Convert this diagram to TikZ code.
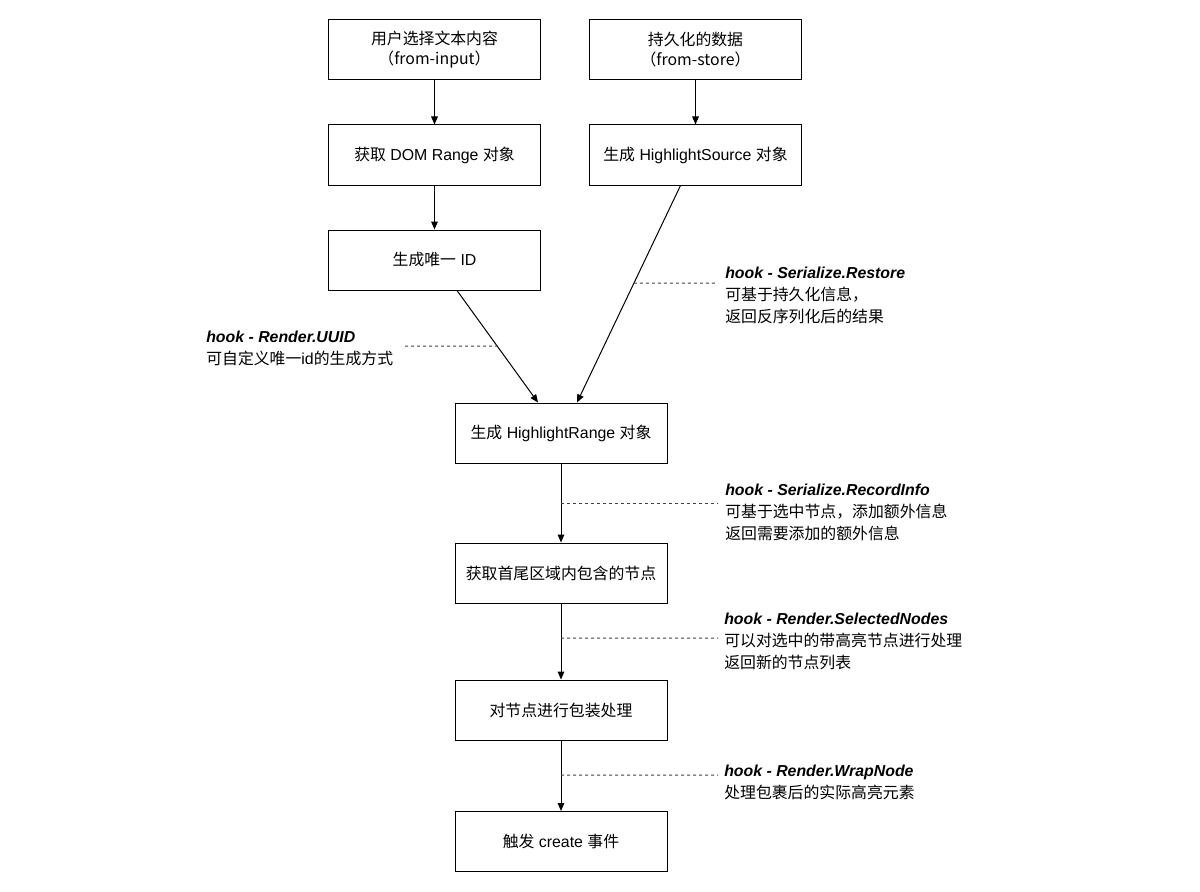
\documentclass[tikz,border=0pt]{standalone}
\usepackage{fontspec}
\setmainfont{Liberation Sans}
\newfontfamily\cjk{Noto Sans CJK SC}
\usetikzlibrary{arrows.meta,calc}
\newcommand{\hk}[1]{{\bfseries\itshape #1}}
\begin{document}
\begin{tikzpicture}[x=0.75pt,y=-0.75pt,
  box/.style={draw, line width=0.75pt, minimum width=159pt, minimum height=45pt,
    inner sep=0pt, align=center, font=\fontsize{11.9}{15}\selectfont},
  arr/.style={line width=0.75pt, -{Triangle[length=6pt,width=5pt]}},
  hookline/.style={dash pattern=on 2.25pt off 2.25pt, line width=0.75pt, black!75},
  lbl/.style={anchor=north west, inner sep=0pt, align=left,
    font=\fontsize{11.9}{16.5}\selectfont},
]
\useasboundingbox (0,0) rectangle (1200,892);

\node[box] (A) at (434.5,50) {{\cjk 用户选择文本内容}\\{\cjk （from-input）}};
\node[box] (B) at (695.5,50) {{\cjk 持久化的数据}\\{\cjk （from-store）}};
\node[box] (C) at (434.5,155) {{\cjk 获取} DOM Range {\cjk 对象}};
\node[box] (D) at (695.5,155) {{\cjk 生成} HighlightSource {\cjk 对象}};
\node[box] (E) at (434.5,260) {{\cjk 生成唯一} ID};
\node[box] (F) at (561,433) {{\cjk 生成} HighlightRange {\cjk 对象}};
\node[box] (G) at (561,573) {{\cjk 获取首尾区域内包含的节点}};
\node[box] (H) at (561,710) {{\cjk 对节点进行包装处理}};
\node[box] (I) at (561,841.5) {{\cjk 触发} create {\cjk 事件}};

\draw[arr] (A.south) -- (C.north);
\draw[arr] (B.south) -- (D.north);
\draw[arr] (C.south) -- (E.north);
\draw[arr] ($(E.south)+(22.5,0)$) -- coordinate[pos=0.496] (m1) ($(F.north)+(-23,0)$);
\draw[arr] ($(D.south)+(-15,0)$) -- coordinate[pos=0.45] (m2) ($(F.north)+(16,0)$);
\draw[arr] (F.south) -- coordinate[pos=0.5] (m3) (G.north);
\draw[arr] (G.south) -- coordinate[pos=0.455] (m4) (H.north);
\draw[arr] (H.south) -- coordinate[pos=0.49] (m5) (I.north);

\coordinate (h1) at (405,346);
\coordinate (h2) at (715,283);
\coordinate (h3) at (718,503);
\coordinate (h4) at (718,638);
\coordinate (h5) at (718,775);

\draw[hookline] (h1) -- (m1);
\draw[hookline] (m2) -- (h2);
\draw[hookline] (m3) -- (h3);
\draw[hookline] (m4) -- (h4);
\draw[hookline] (m5) -- (h5);

\node[lbl] (L1) at (206,331) {\hk{hook - Render.UUID}\\{\cjk 可自定义唯一}id{\cjk 的生成方式}};
\node[lbl] (R1) at (725,267) {\hk{hook - Serialize.Restore}\\{\cjk 可基于持久化信息，}\\{\cjk 返回反序列化后的结果}};
\node[lbl] (R2) at (725,484) {\hk{hook - Serialize.RecordInfo}\\{\cjk 可基于选中节点，添加额外信息}\\{\cjk 返回需要添加的额外信息}};
\node[lbl] (R3) at (724,613) {\hk{hook - Render.SelectedNodes}\\{\cjk 可以对选中的带高亮节点进行处理}\\{\cjk 返回新的节点列表}};
\node[lbl] (R4) at (724,765) {\hk{hook - Render.WrapNode}\\{\cjk 处理包裹后的实际高亮元素}};
\end{tikzpicture}
\end{document}
